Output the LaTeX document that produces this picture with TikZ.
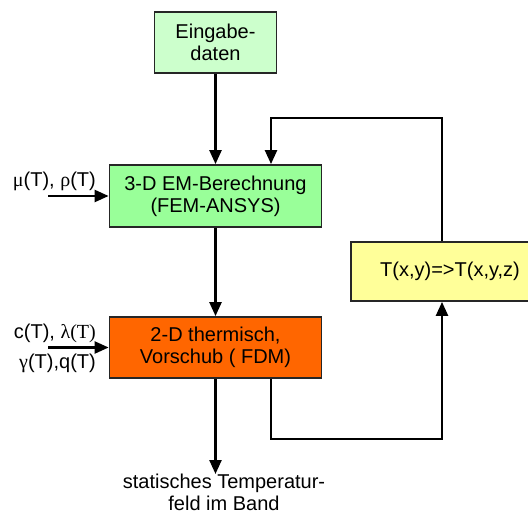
\documentclass[tikz,border=0pt]{standalone}
\usepackage{fontspec}
\setmainfont{Liberation Sans}
\newfontfamily\grk{Liberation Serif}
\usetikzlibrary{arrows.meta}
\definecolor{inGreen}{HTML}{CCFFCC}
\definecolor{emGreen}{HTML}{99FF99}
\definecolor{thOrange}{HTML}{FF6600}
\definecolor{trYellow}{HTML}{FFFF99}
\begin{document}
\begin{tikzpicture}[x=1pt,y=-1pt,font=\fontsize{20}{22}\selectfont,box/.style={draw=black!85,line width=1.8pt,align=center,inner sep=0pt},flow/.style={line width=2.4pt,-{Triangle[length=14pt,width=12pt]}},par/.style={inner sep=0pt}]
\def\cx{215.5};
\def\bw{212};
\def\bh{61};

\useasboundingbox (0,0) rectangle (528,516);

\node[box,fill=inGreen,minimum width=122,minimum height=\bh] (E) at (\cx,42.5) {Eingabe-\\daten};
\node[box,fill=emGreen,minimum width=\bw,minimum height=62] (EM) at (\cx,196) {3-D EM-Berechnung\\(FEM-ANSYS)};
\node[box,fill=thOrange,minimum width=\bw,minimum height=\bh] (TH) at (\cx,347.5) {2-D thermisch,\\Vorschub ( FDM)};
\node[box,fill=trYellow,minimum width=198,minimum height=59] (TR) at (450,271.5) {T(x,y)=>T(x,y,z)};
\draw[flow] (E) -- (EM);
\draw[flow] (EM) -- (TH);

% Materialwerte links
\node[par,anchor=base east] (mu) at (96,187) {{\grk μ}(T), {\grk ρ}(T)};
\node[par,anchor=base east] (lam) at (96,338) {c(T), {\grk λ(T)}};
\node[par,anchor=base east] (gam) at (96,368) {{\grk γ}(T),q(T)};
\coordinate (in1) at (48,196);
\coordinate (in2) at (48,347.5);
\draw[flow] (in1) -- (EM.west);
\draw[flow] (in2) -- (TH.west);

% Rueckkopplung
\coordinate (fb) at (442,118);
\coordinate (fb2) at (271,118);
\draw[flow] (TR.north -| fb) |- (fb2) -- (fb2 |- EM.north);
\draw[flow] (fb2 |- TH.south) -- ++(0,60) -| (TR.south -| fb);

% Ergebnis
\node[par,align=center,anchor=north] (out) at (224,474) {statisches Temperatur-\\feld im Band};
\draw[flow] (TH) -- (TH |- out.north);
\end{tikzpicture}
\end{document}
